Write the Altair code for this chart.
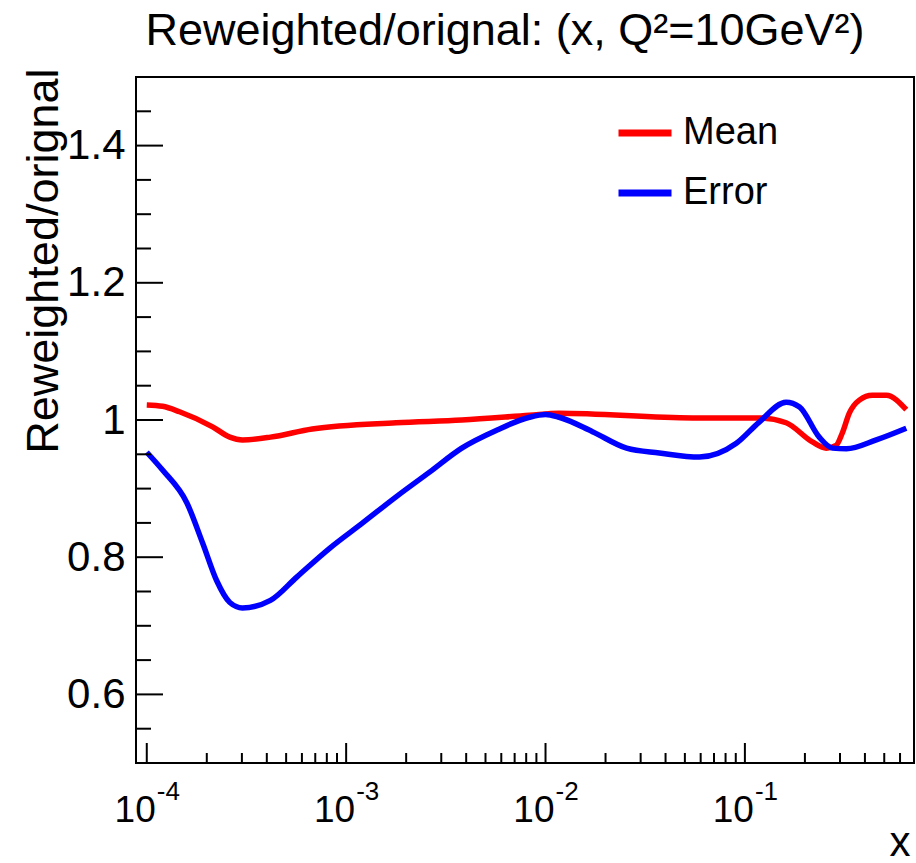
import altair as alt
import pandas as pd

# ---- data ----
mean_x = [1.0e-4, 1.2e-4, 1.46e-4, 2.14e-4, 2.61e-4, 3.02e-4, 4.17e-4, 6.76e-4,
          1.78e-3, 3.80e-3, 8.3e-3, 1.17e-2, 5.45e-2, 0.118, 0.161, 0.218,
          0.256, 0.287, 0.308, 0.334, 0.375, 0.436, 0.512, 0.645]
mean_y = [1.022, 1.020, 1.012, 0.990, 0.975, 0.971, 0.975, 0.987,
          0.996, 1.000, 1.007, 1.010, 1.003, 1.003, 0.996, 0.968,
          0.959, 0.963, 0.981, 1.010, 1.029, 1.036, 1.036, 1.015]

err_x = [1.0e-4, 1.20e-4, 1.59e-4, 1.91e-4, 2.24e-4, 2.61e-4, 3.02e-4, 4.17e-4,
         5.65e-4, 8.26e-4, 1.21e-3, 1.78e-3, 2.62e-3, 3.80e-3, 5.68e-3, 8.3e-3,
         1.0e-2, 1.17e-2, 1.72e-2, 2.55e-2, 3.72e-2, 5.92e-2, 9.06e-2, 0.118,
         0.161, 0.188, 0.236, 0.275, 0.323, 0.456, 0.645]
err_y = [0.953, 0.927, 0.879, 0.820, 0.766, 0.734, 0.726, 0.737,
         0.771, 0.813, 0.850, 0.888, 0.924, 0.959, 0.985, 1.004,
         1.008, 1.004, 0.983, 0.959, 0.952, 0.946, 0.966, 0.997,
         1.026, 1.019, 0.975, 0.959, 0.958, 0.971, 0.988]

series_names = ["Mean", "Error"]
series_colors = ["#ff0000", "#0000ff"]

y_major = [0.6, 0.8, 1.0, 1.2, 1.4]
y_minor = [0.55, 0.65, 0.7, 0.75, 0.85, 0.9, 0.95, 1.05, 1.1, 1.15,
           1.25, 1.3, 1.35, 1.45]
x_major = [1e-4, 1e-3, 1e-2, 1e-1]
x_exponents = ["-4", "-3", "-2", "-1"]
x_minor = [2e-4, 3e-4, 4e-4, 5e-4, 6e-4, 7e-4, 8e-4, 9e-4,
           2e-3, 3e-3, 4e-3, 5e-3, 6e-3, 7e-3, 8e-3, 9e-3,
           2e-2, 3e-2, 4e-2, 5e-2, 6e-2, 7e-2, 8e-2, 9e-2,
           2e-1, 3e-1, 4e-1, 5e-1, 6e-1]

title_text = "Reweighted/orignal: (x, Q\u00b2=10GeV\u00b2)"
y_title = "Reweighted/orignal"
x_title = "x"

# ---- layout ----
W, H = 778, 686
FONT = "Liberation Sans"

df = pd.DataFrame({
    "x": mean_x + err_x,
    "y": mean_y + err_y,
    "series": ["Mean"] * len(mean_x) + ["Error"] * len(err_x),
})

xs = alt.Scale(type="log", domain=[8.83e-5, 0.705], nice=False)
ys = alt.Scale(domain=[0.5, 1.5], nice=False, zero=False)

lines = alt.Chart(df).mark_line(strokeWidth=5.5, interpolate="monotone", clip=True).encode(
    x=alt.X("x:Q", scale=xs, axis=alt.Axis(
        labels=False, ticks=False, domain=False, grid=False, title=x_title,
        titleFont=FONT, titleFontSize=42, titleFontWeight="normal", titleColor="black",
        titleAnchor="end", titleAlign="right", titleBaseline="alphabetic",
        titleX=774, titleY=92)),
    y=alt.Y("y:Q", scale=ys, axis=alt.Axis(
        values=y_major, labelExpr="datum.value == 1 ? '1' : format(datum.value, '.1f')",
        ticks=False, domain=False, grid=False, labelPadding=11,
        labelFont=FONT, labelFontSize=42, labelColor="black",
        title=y_title, titleFont=FONT, titleFontSize=45, titleFontWeight="normal",
        titleColor="black", titleAngle=270, titleAlign="right",
        titleBaseline="alphabetic", titleX=-79, titleY=-9)),
    color=alt.Color("series:N", sort=series_names,
                    scale=alt.Scale(domain=series_names, range=series_colors),
                    legend=alt.Legend(
                        title=None, orient="none", legendX=479, legendY=26,
                        symbolType="stroke", symbolStrokeWidth=7, symbolSize=2809,
                        labelFont=FONT, labelFontSize=38, labelColor="black",
                        labelOffset=8, rowPadding=11, padding=0)),
    detail="series:N",
)

ymaj = alt.Chart(pd.DataFrame({"v": y_major})).mark_rule(color="black", strokeWidth=2).encode(
    y=alt.Y("v:Q", scale=ys), x=alt.value(0), x2=alt.value(27))
ymin = alt.Chart(pd.DataFrame({"v": y_minor})).mark_rule(color="black", strokeWidth=2).encode(
    y=alt.Y("v:Q", scale=ys), x=alt.value(0), x2=alt.value(15))
xmaj = alt.Chart(pd.DataFrame({"v": x_major})).mark_rule(color="black", strokeWidth=2).encode(
    x=alt.X("v:Q", scale=xs), y=alt.value(H), y2=alt.value(H - 20))
xmin = alt.Chart(pd.DataFrame({"v": x_minor})).mark_rule(color="black", strokeWidth=2).encode(
    x=alt.X("v:Q", scale=xs), y=alt.value(H), y2=alt.value(H - 10))

lab_df = pd.DataFrame({"v": x_major, "e": x_exponents})
x_base = alt.Chart(lab_df).mark_text(
    text="10", font=FONT, fontSize=37, align="right", baseline="alphabetic", dx=9,
    color="black").encode(x=alt.X("v:Q", scale=xs), y=alt.value(H + 59))
x_exp = alt.Chart(lab_df).mark_text(
    font=FONT, fontSize=26, align="left", baseline="alphabetic", dx=10,
    color="black").encode(x=alt.X("v:Q", scale=xs), y=alt.value(H + 37), text="e:N")

chart = alt.layer(lines, ymaj, ymin, xmaj, xmin, x_base, x_exp).properties(
    width=W, height=H,
    background="white",
    title=alt.TitleParams(title_text, font=FONT, fontSize=45, fontWeight="normal",
                          color="black", anchor="middle", dx=-20, dy=42, offset=20,
                          baseline="alphabetic"),
    autosize=alt.AutoSizeParams(type="none"),
    padding={"left": 136, "top": 77, "right": 2, "bottom": 100},
).configure_view(stroke="black", strokeWidth=2)

chart.save("out.html", embed_options={"renderer": "svg", "actions": False})
